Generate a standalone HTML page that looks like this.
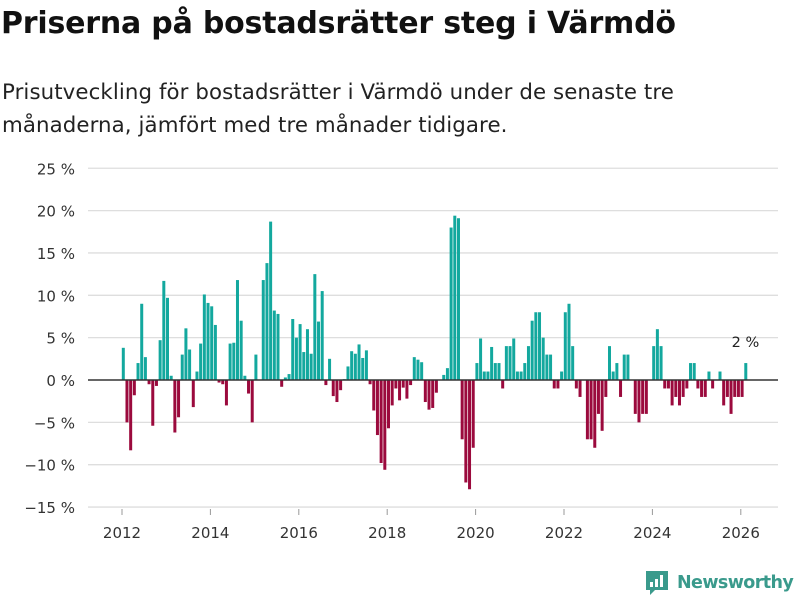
<!DOCTYPE html>
<html><head><meta charset="utf-8"><style>
body{margin:0;width:800px;height:600px;background:#fff;font-family:"DejaVu Sans","Liberation Sans",sans-serif;overflow:hidden;position:relative}
h1{position:absolute;left:1px;top:6px;margin:0;font-size:30px;font-weight:bold;color:#111;letter-spacing:-0.2px;white-space:nowrap}
.sub{position:absolute;left:2px;top:76px;margin:0;font-size:21.3px;line-height:33px;color:#222;white-space:nowrap;letter-spacing:0.1px}
svg{position:absolute;left:0;top:0}
</style></head><body>
<h1>Priserna på bostadsrätter steg i Värmdö</h1>
<p class="sub">Prisutveckling för bostadsrätter i Värmdö under de senaste tre<br>månaderna, jämfört med tre månader tidigare.</p>
<svg id="chart" width="800" height="600"></svg>
<div style="position:absolute;left:645px;top:570px;display:flex;align-items:center">
<svg width="24" height="26" style="position:static"><path d="M1 1h22v19H10l-5 5v-5H1z" fill="#3a9a8c"/><rect x="5" y="12" width="3" height="5" fill="#fff"/><rect x="10" y="9" width="3" height="8" fill="#fff"/><rect x="15" y="5" width="3" height="12" fill="#fff"/></svg>
<span style="font-size:17.5px;color:#3a9a8c;margin-left:8px;letter-spacing:-0.6px;font-weight:bold">Newsworthy</span></div>
<script>
const startYear = 2012;
const values = [
3.8,-5,-8.3,-1.8,2,9,2.7,-0.5,-5.4,-0.7,4.7,11.7,
9.7,0.5,-6.2,-4.4,3,6.1,3.6,-3.2,1,4.3,10.1,9.1,
8.7,6.5,-0.3,-0.5,-3,4.3,4.4,11.8,7,0.5,-1.6,-5,
3,0,11.8,13.8,18.7,8.2,7.8,-0.8,0.3,0.7,7.2,5,
6.6,3.3,6,3.1,12.5,6.9,10.5,-0.6,2.5,-1.9,-2.6,-1.2,
0.1,1.6,3.4,3.1,4.2,2.6,3.5,-0.5,-3.6,-6.5,-9.8,-10.6,
-5.7,-3,-1,-2.4,-0.9,-2.2,-0.6,2.7,2.4,2.1,-2.6,-3.5,
-3.3,-1.5,0,0.6,1.4,18,19.4,19.1,-7,-12.1,-12.9,-8,
2,4.9,1,1,3.9,2,2,-1,4,4,4.9,1,
1,2,4,7,8,8,5,3,3,-1,-1,1,
8,9,4,-1,-2,0,-7,-7,-8,-4,-6,-2,
4,1,2,-2,3,3,0,-4,-5,-4,-4,0,
4,6,4,-1,-1,-3,-2,-3,-2,-1,2,2,
-1,-2,-2,1,-1,0,1,-3,-2,-4,-2,-2,
-2,2];
const yTicks = [-15,-10,-5,0,5,10,15,20,25];
const xTickYears = [2012,2014,2016,2018,2020,2022,2024,2026];
const lastLabel = "2 %";

const svg = document.getElementById('chart');
const NS = 'http://www.w3.org/2000/svg';
const X0 = 122, PXY = 44.2, Y0 = 380, PXV = 8.47;
const xs = m => X0 + m * PXY / 12;
const ys = v => Y0 - v * PXV;
function mk(t, a){const e=document.createElementNS(NS,t);for(const k in a)e.setAttribute(k,a[k]);svg.appendChild(e);return e;}
yTicks.forEach(t=>{
  if(t!==0){const g=mk('line',{x1:88,x2:778,y1:ys(t),y2:ys(t),stroke:'#dedede','stroke-width':1.3});
  
  }
  const l=mk('text',{x:75,y:ys(t)+6,'text-anchor':'end','font-size':15,fill:'#333'});
  l.textContent=(t<0?'\u2212'+(-t):t)+' %';
  
  
});
xTickYears.forEach(y=>{
  const x=xs((y-startYear)*12);
  const tk=mk('line',{x1:x,x2:x,y1:509,y2:515,stroke:'#999'});
  
  
  const l=mk('text',{x:x,y:538,'text-anchor':'middle','font-size':15,fill:'#333'});
  l.textContent=y;
  
  
});
values.forEach((v,i)=>{
  const x=xs(i), y=Math.min(ys(v),Y0), h=Math.abs(ys(v)-Y0);
  const r=mk('rect',{x:x-0.2,y:y,width:3,height:Math.max(h,0.01),fill:v>=0?'#13a89e':'#9b0a3d'});
  
  
});
const z=mk('line',{x1:88,x2:778,y1:Y0,y2:Y0,stroke:'#333','stroke-width':1.5});


const li=values.length-1;
const lab=mk('text',{x:xs(li)+1,y:ys(values[li])-16,'text-anchor':'middle','font-size':14.5,fill:'#222'});
lab.textContent=lastLabel;


</script>
</body></html>
